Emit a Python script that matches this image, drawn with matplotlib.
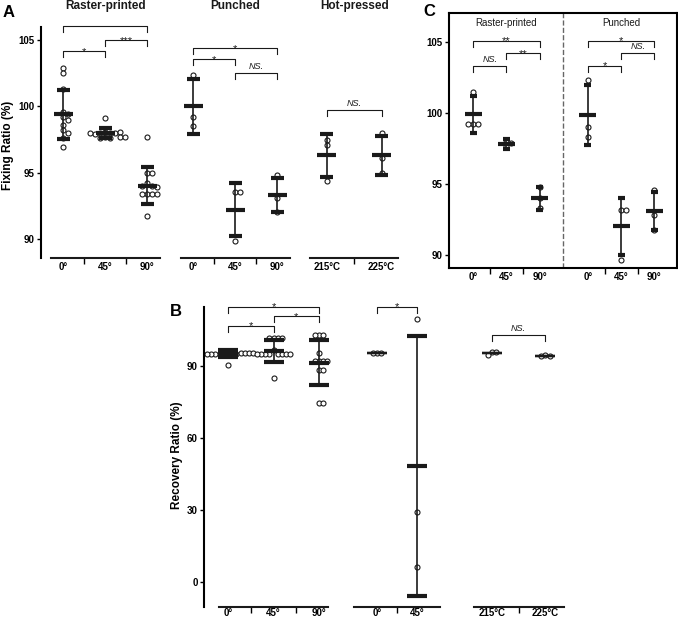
import numpy as np
import matplotlib.pyplot as plt

plt.rcParams['font.family'] = ['Liberation Sans', 'DejaVu Sans']

# ---------- DATA ----------
# panel A: fixing ratio (%)
a_raster = [[102.9, 102.5, 101.3, 99.6, 99.4, 99.2, 99.0, 98.6, 98.2, 98.0, 97.6, 96.9],
            [99.1, 98.1, 98.0, 98.0, 98.0, 97.9, 98.1, 98.0, 97.7, 97.7, 97.6, 97.7, 97.6],
            [97.7, 95.0, 95.0, 94.2, 94.0, 94.0, 93.9, 93.4, 93.4, 93.4, 93.4, 91.7]]
a_raster_mean = [99.4, 98.0, 94.0]
a_raster_sd = [1.85, 0.4, 1.4]
a_punched = [[102.4, 99.2, 98.5], [93.5, 93.5, 89.85], [94.8, 93.1, 92.0]]
a_punched_mean = [100.0, 92.2, 93.3]
a_punched_sd = [2.1, 2.0, 1.3]
a_hot = [[97.5, 97.1, 94.4], [98.0, 96.1, 95.0]]
a_hot_mean = [96.3, 96.3]
a_hot_sd = [1.65, 1.45]

# panel B: recovery ratio (%)
b_raster = [[95.5, 95.3, 95.1, 95.0, 95.0, 95.2, 94.9, 95.1, 95.0, 95.2, 95.0, 95.3, 90.3],
            [101.6, 101.6, 101.6, 101.6, 96.3, 94.7, 94.7, 94.7, 94.7, 94.7, 94.7, 94.7, 94.7, 84.8],
            [102.7, 102.7, 102.7, 95.1, 91.9, 91.9, 91.9, 91.9, 88.2, 88.2, 74.4, 74.4]]
b_raster_mean = [95.0, 96.0, 91.2]
b_raster_sd = [1.45, 4.6, 9.45]
b_punched = [[95.3, 95.3, 95.3], [109.3, 29.2, 6.4]]
b_punched_mean = [95.3, 48.3]
b_punched_sd = [0.05, 54.0]
b_hot = [[95.7, 95.7, 94.4], [94.5, 94.1, 93.8]]
b_hot_mean = [95.2, 94.1]
b_hot_sd = [0.05, 0.05]

# panel C
c_raster = [[101.5, 99.2, 99.2, 99.2], [98.1, 97.9, 97.7], [94.8, 94.0, 93.3]]
c_raster_mean = [99.9, 97.85, 94.0]
c_raster_sd = [1.3, 0.35, 0.8]
c_punched = [[102.3, 99.0, 98.3], [93.2, 93.2, 89.7], [94.6, 92.8, 91.8]]
c_punched_mean = [99.85, 92.05, 93.1]
c_punched_sd = [2.1, 2.0, 1.35]

angle_labels = ['0°', '45°', '90°']
temp_labels = ['215°C', '225°C']
group_titles = ['Raster-printed', 'Punched', 'Hot-pressed']

# significance brackets: (i, j, y, label)
a_sig = [[(0, 1, 104.15, '*'), (1, 2, 105.0, '***'), (0, 2, 106.05, '***')],
         [(0, 1, 103.55, '*'), (1, 2, 102.55, 'NS.'), (0, 2, 104.4, '*')],
         [(0, 1, 99.75, 'NS.')]]
b_sig = [[(0, 1, 106.4, '*'), (1, 2, 110.5, '*'), (0, 2, 114.4, '*')],
         [(0, 1, 114.4, '*')],
         [(0, 1, 102.7, 'NS.')]]
c_sig = [[(0, 1, 103.3, 'NS.'), (1, 2, 104.2, '**'), (0, 2, 105.05, '**')],
         [(0, 1, 103.3, '*'), (1, 2, 104.2, 'NS.'), (0, 2, 105.05, '*')]]

INK = '#1a1a1a'
W, H = 678, 621


def box(l, t, r, b):
    return [l / W, 1 - b / H, (r - l) / W, (b - t) / H]


def px_x(ax, px):
    p = ax.transData.transform([(0, 0), (1, 0)])
    return px / (p[1, 0] - p[0, 0])


def px_y(ax, px):
    p = ax.transData.transform([(0, 0), (0, 1)])
    return px / (p[1, 1] - p[0, 1])


def swarm_x(ax, xc, vals, diam):
    pts = ax.transData.transform(np.column_stack([np.full(len(vals), xc), vals]))
    placed = []
    out = []
    for px, py in pts:
        for k in range(60):
            off = ((k + 1) // 2) * diam * (1 if k % 2 else -1)
            ok = all((px + off - qx) ** 2 + (py - qy) ** 2 >= (diam * 0.95) ** 2 for qx, qy in placed)
            if ok:
                break
        placed.append((px + off, py))
        out.append(ax.transData.inverted().transform((px + off, py))[0])
    return out


def draw_group(ax, x, vals, mean, sd, mean_w, cap_w, diam=5.0, bar_lw=3):
    xs = swarm_x(ax, x, vals, diam)
    ax.plot(xs, vals, 'o', ms=3.6, mfc='white', mec=INK, mew=0.8, zorder=2, clip_on=False)
    ax.plot([x, x], [mean - sd, mean + sd], color=INK, lw=1.2, zorder=3)
    cw = px_x(ax, cap_w) / 2
    for y in (mean - sd, mean + sd):
        ax.plot([x - cw, x + cw], [y, y], color=INK, lw=bar_lw, solid_capstyle='butt', zorder=3)
    mw = px_x(ax, mean_w) / 2
    ax.plot([x - mw, x + mw], [mean, mean], color=INK, lw=bar_lw, solid_capstyle='butt', zorder=3)


def bracket(ax, x1, x2, y, label):
    h = px_y(ax, 6)
    ax.plot([x1, x1, x2, x2], [y - h, y, y, y - h], color=INK, lw=0.8, clip_on=False)
    if label == 'NS.':
        ax.annotate(label, ((x1 + x2) / 2, y), xytext=(0, 1.5), textcoords='offset points',
                    ha='center', va='bottom', fontsize=6.5, style='italic', color=INK)
    else:
        ax.annotate(label, ((x1 + x2) / 2, y), xytext=(0, -2.5), textcoords='offset points',
                    ha='center', va='baseline', fontsize=8, color=INK)


def broken_axis(ax, positions, labels, pads, label_pad=3):
    ticks, seps = [], []
    for pos, lab, pad in zip(positions, labels, pads):
        ax.plot([pos[0] - pad, pos[-1] + pad], [0, 0], color=INK, lw=1.5,
                transform=ax.get_xaxis_transform(), clip_on=False)
        ticks += list(pos)
        seps += [(a + b) / 2 for a, b in zip(pos[:-1], pos[1:])]
    ax.set_xticks(ticks)
    ax.set_xticklabels(sum(labels, []), fontsize=7, fontweight='bold')
    ax.set_xticks(seps, minor=True)
    ax.tick_params(axis='x', which='major', length=0, pad=label_pad)
    ax.tick_params(axis='x', which='minor', length=4, width=1.0, direction='out')
    for s in ('top', 'right', 'bottom'):
        ax.spines[s].set_visible(False)
    ax.spines['left'].set_linewidth(1.5)
    ax.tick_params(axis='y', length=3, width=1.0, pad=1.5, labelsize=7)
    for t in ax.get_yticklabels():
        t.set_fontweight('bold')


fig = plt.figure(figsize=(W / 100, H / 100), dpi=100)

# ---------- PANEL A ----------
axA = fig.add_axes(box(41, 27, 400, 258))
axA.set_xlim(-0.53, 8.02)
axA.set_ylim(88.55, 106.0)
axA.set_yticks([90, 95, 100, 105])
a_pos = [[0, 1, 2], [3.1, 4.1, 5.1], [6.28, 7.58]]
a_data = [(a_raster, a_raster_mean, a_raster_sd), (a_punched, a_punched_mean, a_punched_sd),
          (a_hot, a_hot_mean, a_hot_sd)]
for pos, (pts, m, s), sig in zip(a_pos, a_data, a_sig):
    for x, v, mm, ss in zip(pos, pts, m, s):
        draw_group(axA, x, v, mm, ss, 19, 13)
    for i, j, y, lab in sig:
        bracket(axA, pos[i], pos[j], y, lab)
broken_axis(axA, a_pos, [angle_labels, angle_labels, temp_labels], [0.3, 0.3, 0.4])
for pos, title in zip(a_pos, group_titles):
    axA.text(np.mean(pos), 1.09, title, transform=axA.get_xaxis_transform(),
             ha='center', va='center', fontsize=8.5, fontweight='bold', color=INK)
fig.text(9 / W, 1 - 12.5 / H, 'A', ha='center', va='center', fontsize=12, fontweight='bold')
fig.text(8 / W, 1 - 145 / H, 'Fixing Ratio (%)', rotation=90, ha='center', va='center',
         fontsize=8.5, fontweight='bold')

# ---------- PANEL B ----------
axB = fig.add_axes(box(204, 307, 570, 607))
axB.set_xlim(-0.53, 7.52)
axB.set_ylim(-10.2, 114.3)
axB.set_yticks([0, 30, 60, 90])
b_pos = [[0, 1, 2], [3.28, 4.15], [5.8, 6.98]]
b_data = [(b_raster, b_raster_mean, b_raster_sd), (b_punched, b_punched_mean, b_punched_sd),
          (b_hot, b_hot_mean, b_hot_sd)]
for gi, (pos, (pts, m, s), sig) in enumerate(zip(b_pos, b_data, b_sig)):
    for x, v, mm, ss in zip(pos, pts, m, s):
        lw = 3 if (gi == 0 or ss > 10) else 1.6
        draw_group(axB, x, v, mm, ss, 20, 20, diam=4.2, bar_lw=lw)
    for i, j, y, lab in sig:
        bracket(axB, pos[i], pos[j], y, lab)
broken_axis(axB, b_pos, [angle_labels, angle_labels[:2], temp_labels], [0.2, 0.5, 0.4], label_pad=1)
fig.text(176 / W, 1 - 312 / H, 'B', ha='center', va='center', fontsize=12, fontweight='bold')
fig.text(177 / W, 1 - 455 / H, 'Recovery Ratio (%)', rotation=90, ha='center', va='center',
         fontsize=8.5, fontweight='bold')

# ---------- PANEL C ----------
axC = fig.add_axes(box(449, 13.3, 677, 268.3))
axC.set_xlim(-0.73, 6.13)
axC.set_ylim(89.09, 107.0)
axC.set_yticks([90, 95, 100, 105])
c_pos = [[0, 1, 2], [3.45, 4.45, 5.45]]
c_data = [(c_raster, c_raster_mean, c_raster_sd), (c_punched, c_punched_mean, c_punched_sd)]
for pos, (pts, m, s), sig in zip(c_pos, c_data, c_sig):
    for x, v, mm, ss in zip(pos, pts, m, s):
        draw_group(axC, x, v, mm, ss, 17, 7)
    for i, j, y, lab in sig:
        bracket(axC, pos[i], pos[j], y, lab)
axC.axvline(2.7, color='#666666', ls='--', lw=1.0)
ticks = sum(c_pos, [])
axC.set_xticks(ticks)
axC.set_xticklabels(angle_labels * 2, fontsize=7, fontweight='bold')
axC.set_xticks([0.5, 1.5, 3.95, 4.95], minor=True)
axC.tick_params(axis='x', which='major', length=0, pad=3)
axC.tick_params(axis='x', which='minor', length=4, width=1.0, direction='out')
axC.tick_params(axis='y', length=3, width=1.0, pad=1.5, labelsize=7)
for t in axC.get_yticklabels():
    t.set_fontweight('bold')
for s in axC.spines.values():
    s.set_linewidth(1.5)
for pos, title in zip(c_pos, group_titles[:2]):
    axC.text(pos[1], 106.0, title, ha='center', va='bottom', fontsize=7, color=INK)
fig.text(429 / W, 1 - 11 / H, 'C', ha='center', va='center', fontsize=12, fontweight='bold')

fig.savefig('out.png', dpi=100)
